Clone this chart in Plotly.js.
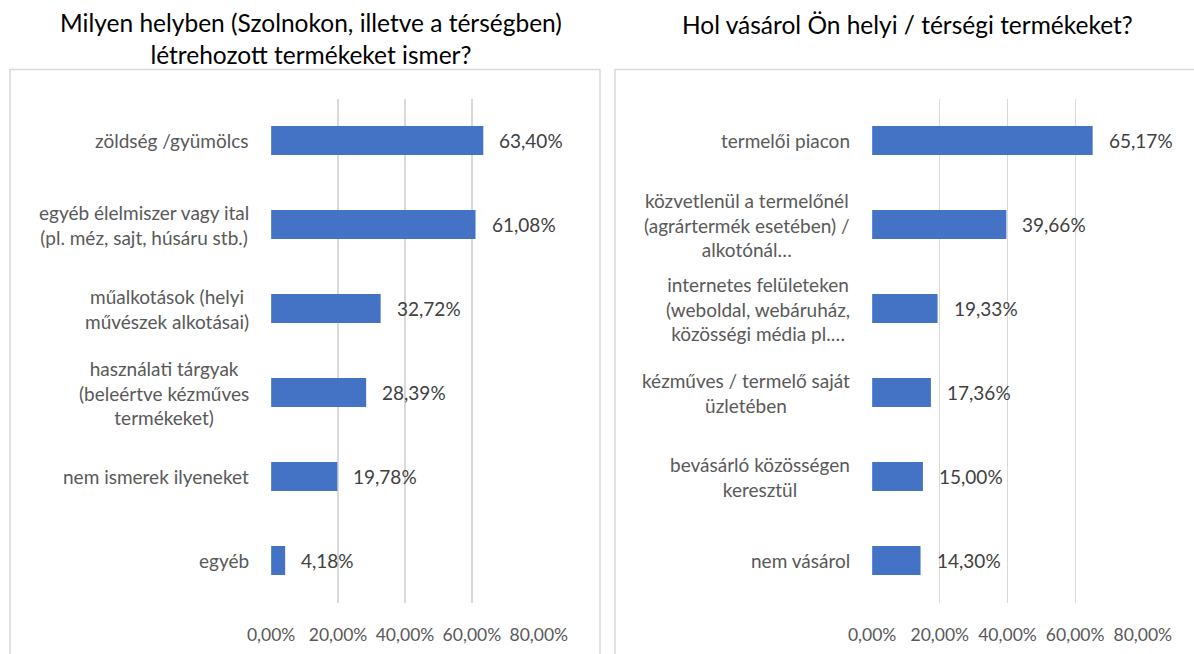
<!DOCTYPE html>
<html>
<head>
<meta charset="utf-8">
<script src="https://cdn.plot.ly/plotly-3.0.1.min.js"></script>
<style>
  html, body { margin: 0; padding: 0; background: #fff; }
  #plot { width: 1194px; height: 654px; }
</style>
</head>
<body>
<div id="plot"></div>
<script>
// left chart: which local products are known
const leftTitle = "Milyen helyben (Szolnokon, illetve a térségben)<br>létrehozott termékeket ismer?";
const leftCats = [
    "zöldség /gyümölcs",
    "egyéb élelmiszer vagy ital<br>(pl. méz, sajt, húsáru stb.)",
    "műalkotások (helyi<br>művészek alkotásai)",
    "használati tárgyak<br>(beleértve kézműves<br>termékeket)",
    "nem ismerek ilyeneket",
    "egyéb"
];
const leftVals = [0.6340, 0.6108, 0.3272, 0.2839, 0.1978, 0.0418];

// right chart: where local products are bought
const rightTitle = "Hol vásárol Ön helyi / térségi termékeket?";
const rightCats = [
    "termelői piacon",
    "közvetlenül a termelőnél<br>(agrártermék esetében) /<br>alkotónál…",
    "internetes felületeken<br>(weboldal, webáruház,<br>közösségi média pl.…",
    "kézműves / termelő saját<br>üzletében",
    "bevásárló közösségen<br>keresztül",
    "nem vásárol"
];
const rightVals = [0.6517, 0.3966, 0.1933, 0.1736, 0.1500, 0.1430];

const tickVals = [0, 0.2, 0.4, 0.6, 0.8];

const W = 1194, H = 654;
const FONT = "Lato, 'Open Sans', sans-serif";
const BAR = "#4472C4";
const GRID = "#d9d9d9";

function px(x) { return x / W; }
function py(y) { return 1 - y / H; }

function fmt(v) {
    return (v * 100).toFixed(2).replace(".", ",") + "%";
}

const data = [
    {
        type: "bar", orientation: "h",
        x: leftVals, y: leftCats,
        xaxis: "x", yaxis: "y",
        marker: { color: BAR },
        hoverinfo: "none"
    },
    {
        type: "bar", orientation: "h",
        x: rightVals, y: rightCats,
        xaxis: "x2", yaxis: "y2",
        marker: { color: BAR },
        hoverinfo: "none"
    }
];

const yDom = [py(602.5), py(98.5)];

function xAxis(domain, anchor) {
    return {
        domain: domain,
        anchor: anchor,
        range: [-0.0005, 0.8005],
        tickvals: tickVals,
        tickformat: ".2%",
        showgrid: true,
        gridcolor: GRID,
        gridwidth: 1.3,
        zeroline: false,
        showline: false,
        ticks: "outside",
        ticklen: 16,
        tickcolor: "rgba(0,0,0,0)",
        tickfont: { family: FONT, size: 17.5, color: "#595959" },
        fixedrange: true
    };
}

function yAxis(anchor) {
    return {
        domain: yDom,
        anchor: anchor,
        type: "category",
        autorange: "reversed",
        showticklabels: false,
        showgrid: false,
        zeroline: false,
        showline: false,
        fixedrange: true
    };
}

const annotations = [];

// chart titles
annotations.push({
    xref: "paper", yref: "paper",
    x: px(311), y: py(38), xanchor: "center", yanchor: "middle",
    text: leftTitle, showarrow: false, align: "center",
    font: { family: FONT, size: 24.5, color: "#000" }
});
annotations.push({
    xref: "paper", yref: "paper",
    x: px(907), y: py(24), xanchor: "center", yanchor: "middle",
    text: rightTitle, showarrow: false, align: "center",
    font: { family: FONT, size: 24.5, color: "#000" }
});

// category labels and value labels
function addLabels(cats, vals, xr, yr) {
    cats.forEach((c, i) => {
        annotations.push({
            xref: xr + " domain", yref: yr,
            x: 0, y: c, xanchor: "right", yanchor: "middle",
            xshift: -20,
            text: c, showarrow: false, align: "center",
            font: { family: FONT, size: 19, color: "#595959" }
        });
        annotations.push({
            xref: xr, yref: yr,
            x: vals[i], y: c, xanchor: "left", yanchor: "middle",
            xshift: 14,
            text: fmt(vals[i]), showarrow: false,
            font: { family: FONT, size: 19, color: "#404040" }
        });
    });
}
addLabels(leftCats, leftVals, "x", "y");
addLabels(rightCats, rightVals, "x2", "y2");

// chart area borders
const shapes = [
    {
        type: "rect", xref: "paper", yref: "paper",
        x0: px(10), x1: px(600), y0: py(700), y1: py(69.5),
        line: { color: GRID, width: 1.5 }, fillcolor: "rgba(0,0,0,0)", layer: "below"
    },
    {
        type: "rect", xref: "paper", yref: "paper",
        x0: px(615), x1: px(1240), y0: py(700), y1: py(69.5),
        line: { color: GRID, width: 1.5 }, fillcolor: "rgba(0,0,0,0)", layer: "below"
    }
];

const layout = {
    width: W,
    height: H,
    margin: { l: 0, r: 0, t: 0, b: 0 },
    paper_bgcolor: "#fff",
    plot_bgcolor: "rgba(0,0,0,0)",
    showlegend: false,
    separators: ", ",
    bargap: 0.655,
    font: { family: FONT },
    xaxis: xAxis([px(271), px(539)], "y"),
    yaxis: yAxis("x"),
    xaxis2: xAxis([px(872), px(1143)], "y2"),
    yaxis2: yAxis("x2"),
    annotations: annotations,
    shapes: shapes
};

Plotly.newPlot("plot", data, layout, { displayModeBar: false, staticPlot: true });
</script>
</body>
</html>
